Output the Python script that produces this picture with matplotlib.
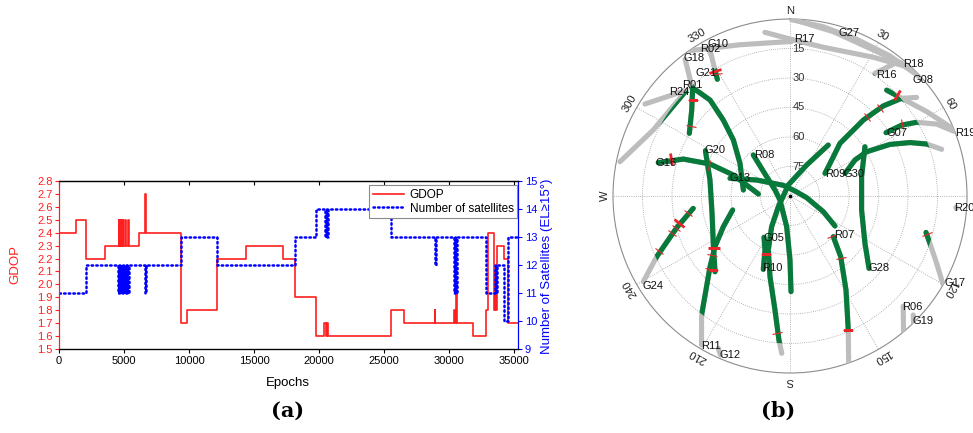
import numpy as np
import matplotlib
matplotlib.use('Agg')
import matplotlib.pyplot as plt
from matplotlib.markers import MarkerStyle
from matplotlib.transforms import Affine2D, offset_copy
from matplotlib.path import Path
from matplotlib.patches import PathPatch

plt.rcParams['font.family'] = ['Liberation Sans', 'DejaVu Sans']

# ---------------- panel (a) data ----------------
gdop_epoch = [0, 1300, 2050, 3560, 4580, 4640, 4750, 4800, 4900, 4960, 5060, 5120, 5300, 5360,
              6180, 6650, 6720, 9390, 9820, 12150, 14380, 17230, 18150, 19740, 20380, 20520,
              20580, 20700, 25540, 26540, 28880, 28950, 30380, 30430, 30560, 30640, 31870,
              32820, 33030, 33490, 33560, 33620, 33700, 34230, 34510, 35300]
gdop_value = [2.4, 2.5, 2.2, 2.3, 2.5, 2.3, 2.5, 2.3, 2.5, 2.3, 2.5, 2.3, 2.5, 2.3,
              2.4, 2.7, 2.4, 1.7, 1.8, 2.2, 2.3, 2.2, 1.9, 1.6, 1.7, 1.6,
              1.7, 1.6, 1.8, 1.7, 1.8, 1.7, 1.8, 1.7, 2.0, 1.7, 1.6,
              1.8, 2.4, 1.8, 2.1, 1.8, 2.3, 2.2, 1.7, 1.7]

sat_epoch = [0, 2050, 4560, 4620, 4700, 4760, 4850, 4910, 5000, 5060, 5150, 5210, 5330, 5390,
             6650, 6720, 9390, 12150, 18150, 19740, 20450, 20520, 20600, 20680, 25540,
             28900, 28970, 30380, 30440, 30550, 30620, 32820, 33540, 33620, 33700, 34230,
             34510, 35300]
sat_value = [11, 12, 11, 12, 11, 12, 11, 12, 11, 12, 11, 12, 11, 12,
             11, 12, 13, 12, 13, 14, 13, 14, 13, 14, 13,
             12, 13, 11, 13, 11, 13, 11, 12, 11, 12, 10,
             13, 13]

gdop_ticks = [1.5, 1.6, 1.7, 1.8, 1.9, 2.0, 2.1, 2.2, 2.3, 2.4, 2.5, 2.6, 2.7, 2.8]
sat_ticks = [9, 10, 11, 12, 13, 14, 15]
epoch_ticks = [0, 5000, 10000, 15000, 20000, 25000, 30000, 35000]

# ---------------- panel (b) data: satellite tracks (azimuth deg, elevation deg) -------------
R24_az = [281.4, 295.8, 315.2];                 R24_el = [1.8, 12.8, 14.8]
X1_az = [302.4, 315.1];                         X1_el = [2.7, 14.4]
G18_az = [322.5, 320.7, 318.2, 317.4, 311.2, 301.9]; G18_el = [2.4, 8.3, 15.0, 16.8, 23.6, 29.7]
R01_az = [318.3, 320.2, 318.7, 314.7, 303.2, 277.3]; R01_el = [17.4, 26.5, 38.6, 49.5, 59.6, 66.1]
G21_az = [331.3, 329.2, 328.1];                 G21_el = [5.4, 15.4, 20.1]
G10_az = [325.5, 341.7, 360.6];                 G10_el = [0.3, 9.0, 11.4]
R17_az = [351.3, 360.0, 372.6, 391.0, 401.0];   R17_el = [5.8, 10.2, 12.5, 7.7, 2.2]
G27_az = [0.5, 11.1, 23.1, 35.5, 48.2];         G27_el = [0.3, 2.3, 3.4, 2.5, 0.2]
R18_az = [1.1, 14.8, 29.7, 40.1];               R18_el = [0.2, 3.6, 4.5, 1.8]
R16_az = [34.7, 38.1];                          R16_el = [14.1, 4.8]
R19_az = [42.4, 48.1, 58.3, 67.9];              R19_el = [17.1, 14.9, 8.3, 0.0]
R09_az = [57.1, 47.8, 43.5, 44.0, 46.0, 48.8, 52.1]; R09_el = [68.8, 60.2, 53.1, 36.3, 24.1, 14.6, 8.4]
G07_az = [56.6, 57.6, 59.8, 63.9, 68.5];        G07_el = [31.5, 22.7, 15.5, 6.9, 0.3]
G30_az = [67.6, 61.0, 60.0, 62.7, 66.0, 69.2, 72.9]; G30_el = [59.7, 52.2, 45.0, 32.8, 23.2, 15.6, 9.3]
G28_az = [56.7, 74.9, 101.1, 122.3, 132.5];     G28_el = [44.4, 52.3, 52.9, 44.9, 35.5]
R07_az = [133.2, 140.1, 149.2, 156.5, 160.6];   R07_el = [59.8, 49.8, 34.4, 15.7, 0.2]
G13_az = [-73.6, -64.4, -32.0, 45.0, 95.7, 115.2, 123.7]; G13_el = [58.2, 71.2, 83.6, 86.4, 81.5, 71.3, 62.5]
G16_az = [284.2, 289.1, 291.8, 290.3, 273.6];   G16_el = [20.9, 32.6, 46.2, 59.3, 73.9]
R08_az = [-41.8, -50.4, -68.2, -111.8, -173.8, -180.0, -180.6]; R08_el = [62.0, 74.6, 81.8, 84.5, 74.3, 57.5, 41.4]
X2_az = [36.9, 28.3, -8.6, -90.0, -132.4, -149.1, -158.1, -166.1, -172.5, -175.6, -177.0]
X2_el = [57.6, 72.1, 84.3, 86.6, 82.0, 71.8, 60.4, 47.7, 31.5, 16.6, 9.9]
G05_az = [212.2, 204.8, 200.0];                 G05_el = [65.2, 59.7, 50.3]
G20_az = [298.2, 281.3, 257.5, 236.5, 224.7];   G20_el = [41.2, 48.5, 49.4, 43.3, 35.8]
R11_az = [256.3, 245.3, 236.0, 228.5, 221.8, 216.6, 210.7]; R11_el = [60.0, 52.7, 44.0, 35.7, 25.9, 14.6, 1.9]
G24_az = [262.7, 254.4, 245.5, 239.7];          G24_el = [40.4, 30.2, 15.5, 3.6]
G12_az = [205.2, 203.6];                        G12_el = [4.4, 1.8]
R06_az = [134.2, 140.0];                        R06_el = [9.7, 0.2]
G19_az = [134.0, 135.7];                        G19_el = [2.9, 0.0]
G17_az = [105.0, 108.7, 114.7, 120.1];          G17_el = [18.4, 14.9, 7.9, 0.0]
R20_az = [93.9, 94.3];                          R20_el = [5.4, 5.2]

# satellite name labels
label_names = ['G08', 'R18', 'R16', 'G27', 'R17', 'G10', 'R02', 'G18', 'G21', 'R01', 'R24',
               'G16', 'G20', 'G13', 'R08', 'R09', 'G30', 'G07', 'G28', 'R07', 'G05', 'R10',
               'G24', 'R11', 'G12', 'R06', 'G19', 'G17', 'R19', 'R20']
label_az = [49.0, 43.1, 38.4, 20.0, 5.1, 334.8, 331.4, 325.2, 325.7, 318.8, 313.3,
            285.0, 301.5, 289.5, 327.6, 63.9, 71.0, 59.3, 129.0, 125.8, 200.7, 193.5,
            236.8, 207.8, 200.7, 132.3, 133.1, 117.7, 70.3, 94.0]
label_el = [0.1, -1.7, 11.5, 2.0, 10.0, 4.6, 5.1, 4.8, 14.1, 14.9, 12.7,
            24.5, 45.3, 63.0, 65.3, 64.5, 55.6, 26.9, 31.6, 56.1, 67.0, 52.2,
            6.5, 4.0, 3.6, 5.9, -2.8, -4.8, -4.5, 1.1]

# red epoch markers on tracks (az, el, heavy?)
mark_az = [329.0, 329.0, 314.8, 305.2, 287.1, 291.0, 260.7, 256.5, 254.5, 252.5, 247.3,
           235.5, 232.9, 227.5, 226.3, 202.8, -174.7, 133.8, 140.9, 156.5, 44.3, 45.8,
           46.6, 57.3, 105.7]
mark_el = [15.9, 17.6, 20.7, 28.2, 26.5, 46.1, 37.6, 32.1, 29.8, 26.9, 18.0,
           43.1, 40.3, 34.8, 35.6, 58.0, 19.9, 60.6, 49.2, 15.7, 34.2, 26.1,
           15.3, 22.5, 17.8]
mark_heavy = [1, 0, 0, 0, 1, 0, 0, 1, 0, 0, 0,
              1, 0, 0, 0, 0, 0, 0, 0, 0, 0, 0,
              1, 0, 0]

elev_rings = [15, 30, 45, 60, 75]
azimuths = [0, 30, 60, 90, 120, 150, 180, 210, 240, 270, 300, 330]
azimuth_text = ['N', '30', '60', 'E', '120', '150', 'S', '210', '240', 'W', '300', '330']

# ---------------- figure ----------------
W, H = 973, 433
fig = plt.figure(figsize=(W / 100, H / 100), dpi=100)

# ---- panel (a)
ax = fig.add_axes([59 / W, 1 - 349 / H, (518 - 59) / W, (349 - 181) / H])
red = '#ff1f1f'
blue = '#0000ff'
l1, = ax.step(gdop_epoch, gdop_value, where='post', color=red, lw=1.2, label='GDOP')
ax.set_xlim(0, 35300)
ax.set_ylim(1.5, 2.8)
ax.set_yticks(gdop_ticks)
ax.set_yticklabels([f'{v:.1f}' for v in gdop_ticks])
ax.set_xticks(epoch_ticks)
ax.tick_params(axis='y', colors=red, direction='out', length=3, width=0.8, labelsize=8, pad=1.5)
ax.tick_params(axis='x', direction='out', length=3, width=0.8, labelsize=8, pad=2)
for s in ['top', 'bottom']:
    ax.spines[s].set_linewidth(0.9)
ax.spines['left'].set_color(red)
ax.spines['right'].set_color(blue)

top = ax.secondary_xaxis('top')
top.set_xticks(epoch_ticks)
top.tick_params(direction='in', length=3, width=0.8, labeltop=False)

ax2 = ax.twinx()
l2, = ax2.step(sat_epoch, sat_value, where='post', color=blue, lw=1.8,
               ls=(0, (0.6, 1.25)), dash_capstyle='round', label='Number of satellites')
ax2.set_ylim(9, 15)
ax2.set_yticks(sat_ticks)
ax2.tick_params(axis='y', colors=blue, direction='out', length=3, width=0.8, labelsize=8, pad=2)
ax2.spines['right'].set_color(blue)
ax2.spines['left'].set_color(red)

leg = ax2.legend(handles=[l1, l2], loc='upper right', bbox_to_anchor=(0.998, 0.975),
                 borderaxespad=0, fontsize=8.5, frameon=True, fancybox=False,
                 edgecolor='#8a8a8a', framealpha=1, handlelength=2.6, handletextpad=0.5,
                 borderpad=0.3, labelspacing=0.15)
leg.get_frame().set_linewidth(0.8)

fig.text(15 / W, 1 - 265 / H, 'GDOP', color=red, rotation=90, ha='center', va='center', fontsize=9.5)
fig.text(288 / W, 1 - 383 / H, 'Epochs', ha='center', va='center', fontsize=9.5)
fig.text(547 / W, 1 - 266 / H, 'Number of Satellites (EL\u226515\u00b0)', color=blue, rotation=90,
         ha='center', va='center', fontsize=9.5)

fig.text(288 / W, 1 - 411 / H, '(a)', ha='center', va='center', fontsize=15,
         family='DejaVu Serif', weight='bold')
fig.text(778 / W, 1 - 411 / H, '(b)', ha='center', va='center', fontsize=15,
         family='DejaVu Serif', weight='bold')

# ---- panel (b) skyplot
axp = fig.add_axes([613 / W, 1 - 373 / H, 354 / W, 354 / H], projection='polar')
axp.set_theta_zero_location('N')
axp.set_theta_direction(-1)
axp.set_ylim(0, 90)
axp.set_yticks([90 - e for e in elev_rings])
axp.set_xticks(np.deg2rad(azimuths))
axp.xaxis.set_ticklabels([])
axp.yaxis.set_ticklabels([])
axp.grid(True, color='#9c9c9c', lw=0.6, ls=(0, (1, 1.6)))
axp.spines['polar'].set_color('#8c8c8c')
axp.spines['polar'].set_linewidth(0.8)
axp.tick_params(length=0)

# elevation labels along the north line
off = offset_copy(axp.transData, fig=fig, x=2.5, y=0, units='dots')
for e in elev_rings:
    axp.text(0, 90 - e, str(e), transform=off, ha='left', va='center', fontsize=8, color='#333333')

# azimuth labels around the rim
for a, t in zip(azimuths, azimuth_text):
    axp.text(np.deg2rad(a), 94, t, rotation=-a, rotation_mode='anchor', ha='center', va='center',
             fontsize=8, color='#222222', clip_on=False)

tracks = [
    (R24_az, R24_el), (X1_az, X1_el), (G18_az, G18_el), (R01_az, R01_el), (G21_az, G21_el),
    (G10_az, G10_el), (R17_az, R17_el), (G27_az, G27_el), (R18_az, R18_el), (R16_az, R16_el),
    (R19_az, R19_el), (R09_az, R09_el), (G07_az, G07_el), (G30_az, G30_el), (G28_az, G28_el),
    (R07_az, R07_el), (G13_az, G13_el), (G16_az, G16_el), (R08_az, R08_el), (X2_az, X2_el),
    (G05_az, G05_el), (G20_az, G20_el), (R11_az, R11_el), (G24_az, G24_el), (G12_az, G12_el),
    (R06_az, R06_el), (G19_az, G19_el), (G17_az, G17_el), (R20_az, R20_el),
]

# clip region: elevation >= 15 deg (mask angle)
th = np.linspace(0, 2 * np.pi, 721)
clip_patch = PathPatch(Path(np.column_stack([th, np.full_like(th, 90 - 15)]), closed=True),
                       transform=axp.transData)

gray = '#bdbdbd'
green = '#07793a'
lw_track = 3.7
for az, el in tracks:
    t = np.deg2rad(az)
    r = 90 - np.clip(el, 0, 90)
    axp.plot(t, r, color=gray, lw=lw_track, solid_capstyle='round', zorder=3)
for az, el in tracks:
    t = np.deg2rad(az)
    r = 90 - np.clip(el, 0, 90)
    ln, = axp.plot(t, r, color=green, lw=lw_track, solid_capstyle='round', zorder=4)
    ln.set_clip_path(clip_patch)

axp.plot(0, 0, 'o', color='k', ms=1.6, zorder=6)

# red epoch markers perpendicular to the nearest track
fig.canvas.draw()
disp_tracks = []
for az, el in tracks:
    pts = axp.transData.transform(np.column_stack([np.deg2rad(az), 90 - np.clip(el, 0, 90)]))
    disp_tracks.append(pts)
for a, e, hv in zip(mark_az, mark_el, mark_heavy):
    p = axp.transData.transform((np.deg2rad(a), 90 - e))
    best = None
    for pts in disp_tracks:
        for i in range(len(pts) - 1):
            p0, p1 = pts[i], pts[i + 1]
            d = p1 - p0
            L2 = float(d @ d)
            if L2 == 0:
                continue
            u = np.clip((p - p0) @ d / L2, 0, 1)
            dist = np.hypot(*(p0 + u * d - p))
            if best is None or dist < best[0]:
                best = (dist, d)
    ang = np.degrees(np.arctan2(best[1][1], best[1][0]))
    m = MarkerStyle('_', transform=Affine2D().rotate_deg(ang + 90))
    axp.plot(np.deg2rad(a), 90 - e, marker=m, ls='none', color='#e8262a',
             ms=9 if hv else 7.5, mew=2.0 if hv else 0.8, zorder=5)

for n, a, e in zip(label_names, label_az, label_el):
    axp.text(np.deg2rad(a), 90 - e, n, ha='center', va='center', fontsize=8, color='#111111',
             zorder=7, clip_on=False)

fig.savefig('out.png', dpi=100)
